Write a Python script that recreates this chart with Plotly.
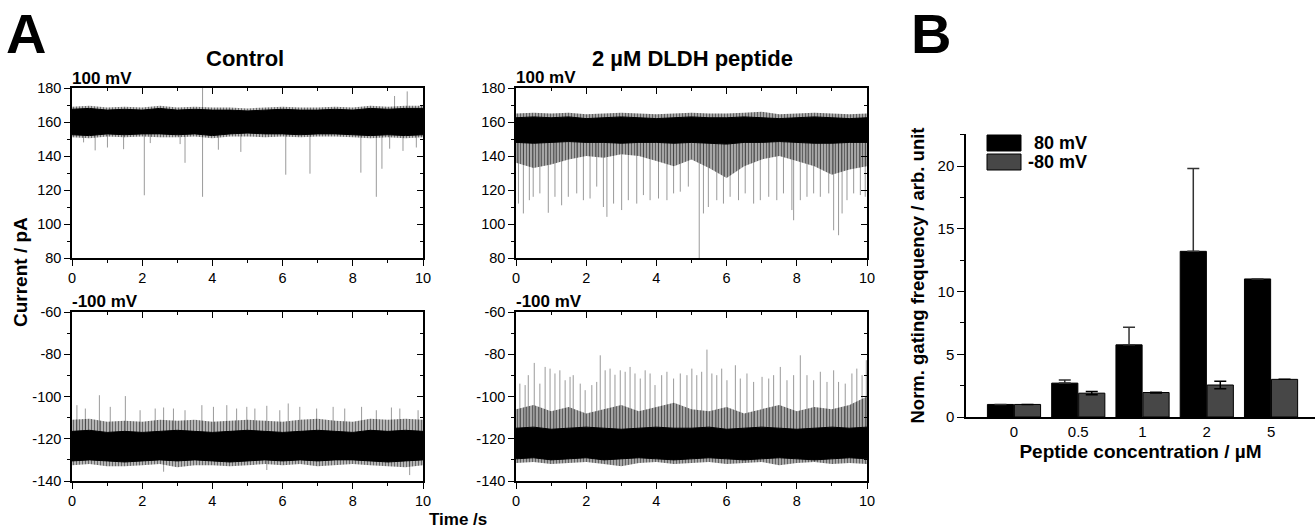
import plotly.graph_objects as go

W, H = 1315, 529
FONT = "Liberation Sans, Arial, sans-serif"

# ---------------- Panel A: current traces ----------------
t_grid = [0, 0.5, 1, 1.5, 2, 2.5, 3, 3.5, 4, 4.5, 5, 5.5, 6, 6.5, 7, 7.5, 8, 8.5, 9, 9.5, 10]
pos_ticks = [80, 100, 120, 140, 160, 180]
neg_ticks = [-140, -120, -100, -80, -60]
neg_tick_text = ["-140", "-120", "-100", "-80", "-60"]

# control, +100 mV
ctrl_pos_hi = [167.5, 168, 167, 167.5, 167, 168, 167, 167.5, 167, 167, 166.5, 167, 167.5, 167, 167, 167.5, 167, 168, 167.5, 168, 168]
ctrl_pos_lo = [152.5, 152, 153, 152.5, 153, 153, 152.5, 153, 152, 153, 153.5, 153, 153, 152.5, 153, 153, 152.5, 152, 152.5, 152, 152.5]
ctrl_pos_fr_hi = [169, 169.5, 168.5, 169, 168.5, 169.5, 168.5, 169, 168.5, 168.5, 168, 168.5, 169, 168.5, 168.5, 169, 168.5, 169.5, 169, 169.5, 169.5]
ctrl_pos_fr_lo = [151, 150.5, 151.5, 151, 151.5, 151, 151, 151.5, 150.5, 151.5, 151.5, 151, 151.5, 151, 151.5, 151.5, 151, 150.5, 151, 150.5, 151]
ctrl_pos_spk_t = [0.33, 0.66, 1.01, 1.47, 2.06, 2.23, 3.08, 3.22, 3.72, 3.72, 4.17, 4.81, 6.09, 6.78,
                  8.23, 8.67, 8.83, 9.05, 9.19, 9.43, 9.55, 9.81]
ctrl_pos_spk_v = [148, 143.3, 145, 144, 116.9, 147.6, 147, 136, 116, 180, 143.7, 142.4, 129, 129.6,
                  130.2, 116, 132.5, 144.3, 175.3, 143, 178, 145]

# 2 uM peptide, +100 mV
pep_pos_hi = [162.5, 163, 162.5, 163, 162, 162.5, 163, 162.5, 162, 162.5, 163, 162.5, 162.5, 163, 162.5, 162, 162.5, 163, 162.5, 162, 162.5]
pep_pos_lo = [148, 147.5, 148, 148.5, 148, 148, 147.5, 148, 148, 147.5, 148, 147.5, 147, 148, 148, 148.5, 148, 147.5, 147.5, 148, 148]
pep_pos_fr_hi = [165, 165.5, 165, 165.5, 164.5, 165, 165.5, 165, 164.5, 165, 165.5, 165, 165, 165.5, 166, 164.5, 165, 165.5, 165, 164.5, 165]
pep_pos_fr_lo = [136, 133, 135, 138, 140, 139, 141, 140, 137, 134, 138, 133, 127, 134, 138, 140, 137, 134, 129, 132, 134]
pep_pos_spk_t = [0.07, 0.21, 0.38, 0.49, 0.68, 0.92, 1.11, 1.30, 1.49, 1.73, 1.92, 2.11, 2.30, 2.49, 2.59,
                 2.78, 3.01, 3.20, 3.44, 3.63, 3.82, 4.06, 4.30, 4.49, 4.68, 4.91, 5.22, 5.34, 5.48, 5.72,
                 5.91, 6.10, 6.34, 6.53, 6.77, 6.96, 7.20, 7.43, 7.62, 7.86, 7.91, 8.10, 8.29, 8.48, 8.67,
                 8.91, 9.05, 9.19, 9.29, 9.43, 9.62, 9.81, 9.95]
pep_pos_spk_v = [112, 106.2, 114, 116, 118, 106.6, 116, 111, 116, 118, 114, 115, 122, 110, 104.2,
                 112, 108.2, 114, 112, 117, 114, 115, 114, 118, 119, 122, 80, 106.2, 110, 114,
                 112, 116, 114, 118, 112, 114, 116, 114, 118, 108.2, 102.2, 114, 116, 118, 116,
                 118, 96.3, 93.4, 106.2, 114, 118, 117, 116]

# control, -100 mV
ctrl_neg_hi = [-116.5, -116, -117, -116.5, -117, -116.5, -116, -116.5, -117, -116.5, -116, -116.5, -117, -116.5, -116, -116.5, -117, -116, -116.5, -116, -116.5]
ctrl_neg_lo = [-130.5, -130, -130.5, -131, -130.5, -130, -130.5, -130, -130.5, -131, -130.5, -130, -130.5, -130, -130.5, -130, -130, -130.5, -131, -130.5, -130]
ctrl_neg_fr_hi = [-111, -110.5, -112, -111.5, -112, -111, -111.5, -111, -112, -111.5, -111, -111.5, -112, -111, -110.5, -111.5, -112, -110.5, -111, -110.5, -111]
ctrl_neg_fr_lo = [-132.5, -132, -133, -133, -132.5, -132, -133.5, -132.5, -132.5, -133, -132.5, -132, -132.5, -132, -133, -132.5, -132, -132.5, -133, -133.5, -132.5]
ctrl_neg_spk_t = [0.14, 0.38, 0.78, 1.09, 1.52, 1.94, 2.37, 2.61, 2.89, 3.22, 3.70, 4.03, 4.41, 4.69, 4.98,
                  5.21, 5.55, 5.92, 6.16, 6.49, 6.97, 7.44, 7.77, 8.25, 8.67, 9.10, 9.34, 9.86,
                  2.61, 9.62, 5.55]
ctrl_neg_spk_v = [-104.1, -105.7, -99.4, -104.9, -99.8, -106.5, -105.7, -105.2, -105.7, -106.5, -104.1, -104.9,
                  -104.1, -105.7, -104.9, -105.7, -104.4, -106.5, -103.3, -104.9, -105.7, -104.9, -105.7,
                  -104.9, -106.5, -105.2, -105.7, -106.5, -135.6, -137.2, -134.8]

# 2 uM peptide, -100 mV
pep_neg_hi = [-115, -114.5, -115.5, -115, -114.5, -115, -115.5, -115, -114.5, -115, -115, -114.5, -115.5, -115, -114.5, -115, -115.5, -115, -114.5, -115, -114.5]
pep_neg_lo = [-129.5, -129, -130, -129.5, -129, -130, -129.5, -129, -129.5, -130, -129.5, -129, -129.5, -130, -129.5, -129, -129.5, -130, -129.5, -129, -129.5]
pep_neg_fr_hi = [-106, -104, -107, -105, -108, -106, -104, -107, -105, -103, -106, -107, -105, -108, -106, -104, -107, -105, -106, -104, -100]
pep_neg_fr_lo = [-131.5, -131, -132, -131.5, -131, -132, -133, -131.5, -131, -132, -131.5, -131, -132, -131.5, -131, -132.5, -131.5, -131, -132, -131.5, -132]
pep_neg_spk_t = [0.11, 0.26, 0.35, 0.52, 0.68, 0.83, 0.97, 1.11, 1.25, 1.40, 1.54, 1.63, 1.83, 1.97, 2.16,
                 2.30, 2.40, 2.54, 2.68, 2.82, 2.97, 3.11, 3.25, 3.39, 3.54, 3.68, 3.82, 3.96, 4.15, 4.30,
                 4.49, 4.68, 4.87, 5.01, 5.15, 5.29, 5.44, 5.58, 5.72, 5.86, 6.01, 6.25, 6.39, 6.58, 6.77,
                 7.01, 7.20, 7.34, 7.53, 7.72, 7.91, 8.10, 8.29, 8.48, 8.67, 8.86, 9.05, 9.19, 9.38, 9.57,
                 9.71, 9.86, 9.98]
pep_neg_spk_v = [-93.9, -94.6, -89.9, -84.1, -93.9, -86.0, -86.8, -89.1, -87.6, -92.3, -90.7, -89.9, -93.9, -97.0, -94.6,
                 -93.1, -80.5, -87.6, -86.8, -89.7, -87.6, -88.3, -86.0, -89.1, -91.5, -87.6, -89.1, -94.6, -89.9, -88.3,
                 -91.5, -89.1, -89.9, -86.8, -89.9, -88.3, -77.8, -89.1, -89.9, -86.8, -92.3, -85.2, -91.5, -89.1, -93.1,
                 -90.7, -91.5, -89.9, -86.0, -92.3, -89.9, -80.5, -89.9, -92.3, -88.3, -93.1, -87.6, -93.1, -93.9, -89.1,
                 -86.8, -89.9, -82.8]

# ---------------- Panel B: gating frequency ----------------
conc_labels = ["0", "0.5", "1", "2", "5"]
freq_pos80 = [1.0, 2.7, 5.75, 13.2, 11.0]
err_pos80 = [0, 0.25, 1.4, 6.6, 0]
freq_neg80 = [1.0, 1.9, 1.95, 2.55, 3.0]
err_neg80 = [0, 0.13, 0.03, 0.3, 0]


def px(x):
    return x / W


def py(y):
    return 1 - y / H


fig = go.Figure()


def add_trace_panel(ax, spk_t, spk_v, hi, lo, fr_hi, fr_lo, fr_alpha):
    xa, ya = f"x{ax}", f"y{ax}"
    mid = [(a + b) / 2 for a, b in zip(hi, lo)]
    base = sum(mid) / len(mid)
    sx, sy = [], []
    for t, v in zip(spk_t, spk_v):
        sx += [t, t, None]
        sy += [base, v, None]
    fig.add_trace(go.Scatter(x=sx, y=sy, mode="lines", line=dict(color="#9a9a9a", width=1),
                             xaxis=xa, yaxis=ya, hoverinfo="skip", showlegend=False))
    # noisy fringe: vertical-line hatching looks like densely drawn trace
    for edge in (fr_hi, fr_lo):
        fig.add_trace(go.Scatter(x=t_grid, y=mid, mode="lines", line=dict(width=0),
                                 xaxis=xa, yaxis=ya, hoverinfo="skip", showlegend=False))
        fig.add_trace(go.Scatter(x=t_grid, y=edge, mode="lines", line=dict(width=0),
                                 fill="tonexty",
                                 fillpattern=dict(shape="|", size=3, solidity=0.45,
                                                  fgcolor="rgba(0,0,0,0.95)",
                                                  bgcolor=f"rgba(90,90,90,{fr_alpha})"),
                                 xaxis=xa, yaxis=ya, hoverinfo="skip", showlegend=False))
    fig.add_trace(go.Scatter(x=t_grid, y=hi, mode="lines", line=dict(width=1, color="black"),
                             xaxis=xa, yaxis=ya, hoverinfo="skip", showlegend=False))
    fig.add_trace(go.Scatter(x=t_grid, y=lo, mode="lines", line=dict(width=1, color="black"),
                             fill="tonexty", fillcolor="black",
                             xaxis=xa, yaxis=ya, hoverinfo="skip", showlegend=False))


add_trace_panel(1, ctrl_pos_spk_t, ctrl_pos_spk_v, ctrl_pos_hi, ctrl_pos_lo, ctrl_pos_fr_hi, ctrl_pos_fr_lo, 0.3)
add_trace_panel(2, pep_pos_spk_t, pep_pos_spk_v, pep_pos_hi, pep_pos_lo, pep_pos_fr_hi, pep_pos_fr_lo, 0.45)
add_trace_panel(3, ctrl_neg_spk_t, ctrl_neg_spk_v, ctrl_neg_hi, ctrl_neg_lo, ctrl_neg_fr_hi, ctrl_neg_fr_lo, 0.35)
add_trace_panel(4, pep_neg_spk_t, pep_neg_spk_v, pep_neg_hi, pep_neg_lo, pep_neg_fr_hi, pep_neg_fr_lo, 0.45)

# bars
fig.add_trace(go.Bar(x=conc_labels, y=freq_pos80, name="80 mV", marker=dict(color="black", line=dict(color="black", width=1)),
                     error_y=dict(type="data", symmetric=False, array=err_pos80, arrayminus=[0] * len(err_pos80),
                                  color="#333333", thickness=1.5, width=6),
                     xaxis="x5", yaxis="y5", showlegend=False))
fig.add_trace(go.Bar(x=conc_labels, y=freq_neg80, name="-80 mV", marker=dict(color="#474747", line=dict(color="black", width=1)),
                     error_y=dict(type="data", array=err_neg80, color="black", thickness=1.5, width=6),
                     xaxis="x5", yaxis="y5", showlegend=False))

# dummy traces so the mirror (inside-tick) axes get drawn
for k in range(6, 10):
    fig.add_trace(go.Scatter(x=[None], y=[None], xaxis=f"x{k}", yaxis=f"y{k}", showlegend=False, hoverinfo="skip"))

tickfont = dict(family=FONT, size=14.5, color="black")
panels = {
    1: dict(x=(72, 423), y=(88, 258), yr=[80, 180], tv=pos_ticks, tt=[str(v) for v in pos_ticks]),
    2: dict(x=(516, 867), y=(88, 258), yr=[80, 180], tv=pos_ticks, tt=[str(v) for v in pos_ticks]),
    3: dict(x=(72, 423), y=(312, 481), yr=[-140, -60], tv=neg_ticks, tt=neg_tick_text),
    4: dict(x=(516, 867), y=(312, 481), yr=[-140, -60], tv=neg_ticks, tt=neg_tick_text),
}
layout = {}
for k, p in panels.items():
    xd = [px(p["x"][0]), px(p["x"][1])]
    yd = [py(p["y"][1]), py(p["y"][0])]
    layout[f"xaxis{k}"] = dict(domain=xd, range=[0, 10], anchor=f"y{k}", dtick=2, tick0=0, automargin=False,
                               showline=True, linecolor="black", linewidth=1.5, mirror=True,
                               ticks="outside", ticklen=6, tickwidth=1.2, tickcolor="black",
                               minor=dict(dtick=1, ticks="outside", ticklen=3, tickcolor="black", tickwidth=1),
                               showgrid=False, zeroline=False, tickfont=tickfont)
    layout[f"yaxis{k}"] = dict(domain=yd, range=p["yr"], anchor=f"x{k}", tickmode="array",
                               tickvals=p["tv"], ticktext=p["tt"], automargin=False,
                               showline=True, linecolor="black", linewidth=1.5, mirror=True,
                               ticks="outside", ticklen=6, tickwidth=1.2, tickcolor="black",
                               minor=dict(dtick=10, tick0=0, ticks="outside", ticklen=3, tickcolor="black", tickwidth=1),
                               showgrid=False, zeroline=False, tickfont=tickfont)
    m = k + 5
    layout[f"xaxis{m}"] = dict(domain=xd, range=[0, 10], overlaying=f"x{k}", anchor=f"y{k}", side="top",
                               dtick=2, tick0=0, ticks="inside", ticklen=6, tickwidth=1.2, tickcolor="black",
                               minor=dict(dtick=1, ticks="inside", ticklen=3, tickcolor="black", tickwidth=1),
                               showticklabels=False, showgrid=False, zeroline=False, showline=False, automargin=False)
    layout[f"yaxis{m}"] = dict(domain=yd, range=p["yr"], overlaying=f"y{k}", anchor=f"x{k}", side="right",
                               dtick=20, ticks="inside", ticklen=6, tickwidth=1.2, tickcolor="black",
                               minor=dict(dtick=10, ticks="inside", ticklen=3, tickcolor="black", tickwidth=1),
                               showticklabels=False, showgrid=False, zeroline=False, showline=False, automargin=False)

layout["xaxis5"] = dict(domain=[px(966), 1], anchor="y5", type="category", range=[-0.747, 4.684], automargin=False,
                        showline=True, linecolor="black", linewidth=1.5, ticks="",
                        showgrid=False, zeroline=False, tickfont=dict(family=FONT, size=15, color="black"),
                        title=dict(text="<b>Peptide concentration / µM</b>", standoff=6,
                                   font=dict(family=FONT, size=19, color="black")))
layout["yaxis5"] = dict(domain=[py(417), py(134)], anchor="x5", range=[0, 22.55], dtick=5, automargin=False,
                        showline=True, linecolor="black", linewidth=1.5,
                        ticks="outside", ticklen=7, tickwidth=1.2, tickcolor="black",
                        minor=dict(dtick=2.5, ticks="outside", ticklen=4, tickcolor="black", tickwidth=1),
                        showgrid=False, zeroline=False, tickfont=dict(family=FONT, size=15, color="black"),
                        title=dict(text="<b>Norm. gating frequency / arb. unit</b>", standoff=8,
                                   font=dict(family=FONT, size=18.5, color="black")))

fig.update_layout(**layout)


def label(x, y, text, size, xanchor="center", angle=0):
    fig.add_annotation(x=px(x), y=py(y), xref="paper", yref="paper", text=text, showarrow=False,
                       xanchor=xanchor, yanchor="middle", textangle=angle,
                       font=dict(family=FONT, size=size, color="black"))


label(4, 33, "<b>A</b>", 56, xanchor="left")
label(909, 33, "<b>B</b>", 56, xanchor="left")
label(245, 58, "<b>Control</b>", 22)
label(692, 58, "<b>2 µM DLDH peptide</b>", 22)
label(70, 79, "<b>100 mV</b>", 17, xanchor="left")
label(514, 78, "<b>100 mV</b>", 17, xanchor="left")
label(70, 301, "<b>-100 mV</b>", 17, xanchor="left")
label(514, 301, "<b>-100 mV</b>", 17, xanchor="left")
label(20, 272, "<b>Current / pA</b>", 19, angle=-90)
label(458, 519, "<b>Time /s</b>", 17)

# legend for panel B
fig.add_shape(type="rect", xref="paper", yref="paper", x0=px(987), x1=px(1021), y0=py(151), y1=py(135),
              fillcolor="black", line=dict(color="black", width=1))
fig.add_shape(type="rect", xref="paper", yref="paper", x0=px(987), x1=px(1021), y0=py(170), y1=py(154),
              fillcolor="#474747", line=dict(color="black", width=1))
label(1089, 143, "<b>80 mV</b>", 18, xanchor="right")
label(1089, 162, "<b>-80 mV</b>", 18, xanchor="right")

fig.update_layout(width=W, height=H, margin=dict(l=0, r=0, t=0, b=0),
                  paper_bgcolor="white", plot_bgcolor="white",
                  bargap=0.16, bargroupgap=0.03, barmode="group", showlegend=False)

# the page body has a default 8px margin; remove it so the figure sits at the window's corner
fig.write_html("out.html", config={"displayModeBar": False},
               post_script="document.body.style.margin='0';document.body.style.overflow='hidden';")
